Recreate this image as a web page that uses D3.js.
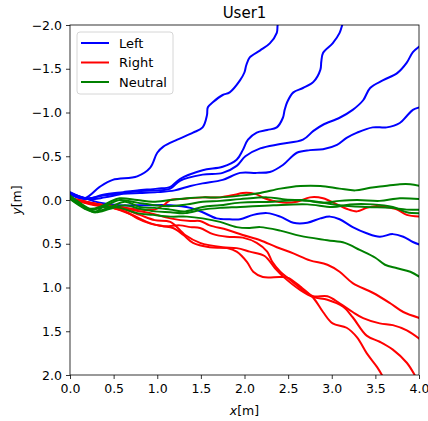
<!DOCTYPE html>
<html><head><meta charset="utf-8">
<script src="https://cdn.jsdelivr.net/npm/d3@7"></script>
<style>body{margin:0;background:#fff}svg{display:block}text{font-family:"DejaVu Sans",sans-serif}</style>
</head><body><svg id="c" width="428" height="421"></svg>
<script>
const title = "User1";
const xTicks = [0,0.5,1,1.5,2,2.5,3,3.5,4];
const yTicks = [-2,-1.5,-1,-0.5,0,0.5,1,1.5,2];
const seriesNames = ["Left","Right","Neutral"];
const seriesColors = ["#0000ff","#ff0000","#008000"];

// Left (blue) trajectories
const leftX = [
 [0,0.17,0.34,0.49,0.77,0.92,1.00,1.07,1.23,1.41,1.52,1.57,1.58,1.64,1.75,1.83,1.95,2.00,2.02,2.06,2.18,2.29,2.37,2.38,2.41],
 [0,0.17,0.38,0.61,0.77,1.00,1.15,1.26,1.52,1.75,1.91,1.98,2.04,2.14,2.26,2.37,2.44,2.46,2.49,2.56,2.67,2.79,2.87,2.88,2.90,3.01,3.09,3.12,3.15],
 [0,0.19,0.38,0.61,0.77,1.00,1.15,1.26,1.52,1.75,1.91,2.01,2.18,2.41,2.67,2.79,2.90,3.09,3.24,3.36,3.44,3.59,3.75,3.86,3.93,4.01],
 [0,0.21,0.40,0.61,0.80,1.00,1.20,1.38,1.52,1.75,1.95,2.14,2.29,2.44,2.60,2.75,2.90,3.06,3.17,3.29,3.47,3.63,3.78,3.86,3.93,4.01],
 [0,0.17,0.34,0.57,0.86,1.15,1.38,1.52,1.68,1.83,1.95,2.10,2.26,2.41,2.56,2.72,2.87,2.98,3.09,3.24,3.40,3.55,3.70,3.82,3.93,4.01]
];
const leftY = [
 [-0.06,-0.02,-0.15,-0.23,-0.27,-0.37,-0.54,-0.61,-0.69,-0.77,-0.83,-0.97,-1.06,-1.12,-1.20,-1.23,-1.37,-1.46,-1.54,-1.63,-1.71,-1.79,-1.91,-2.00,-2.11],
 [-0.07,-0.01,-0.06,-0.09,-0.11,-0.13,-0.15,-0.24,-0.34,-0.38,-0.46,-0.57,-0.69,-0.77,-0.80,-0.83,-0.94,-1.03,-1.12,-1.23,-1.28,-1.35,-1.49,-1.58,-1.68,-1.79,-1.91,-2.00,-2.11],
 [-0.08,-0.02,-0.05,-0.08,-0.10,-0.11,-0.13,-0.22,-0.29,-0.31,-0.39,-0.50,-0.59,-0.64,-0.69,-0.79,-0.86,-0.94,-1.03,-1.14,-1.28,-1.37,-1.45,-1.57,-1.69,-1.76],
 [-0.09,-0.01,-0.03,-0.07,-0.08,-0.09,-0.11,-0.16,-0.19,-0.23,-0.31,-0.31,-0.32,-0.40,-0.54,-0.57,-0.58,-0.63,-0.71,-0.77,-0.83,-0.83,-0.88,-0.96,-1.03,-1.06],
 [-0.08,-0.02,0.03,0.06,0.06,0.06,0.09,0.14,0.21,0.22,0.22,0.17,0.15,0.19,0.26,0.26,0.21,0.19,0.22,0.31,0.38,0.42,0.39,0.42,0.48,0.51]
];

// Right (red) trajectories
const rightX = [
 [0,0.17,0.34,0.57,0.80,0.97,1.07,1.15,1.26,1.52,1.72,1.89,1.98,2.12,2.23,2.33,2.44,2.60,2.75,2.90,3.06,3.17,3.29,3.40,3.50,3.61,3.75,3.86,4.01],
 [0,0.17,0.34,0.52,0.69,0.92,1.15,1.38,1.49,1.60,1.80,1.98,2.18,2.37,2.56,2.75,2.95,3.09,3.24,3.47,3.67,3.82,4.01],
 [0,0.23,0.46,0.69,0.88,1.07,1.26,1.38,1.49,1.64,1.80,1.98,2.14,2.26,2.32,2.41,2.52,2.67,2.79,2.95,3.09,3.24,3.36,3.55,3.70,3.86,4.01],
 [0,0.23,0.46,0.65,0.77,0.92,1.07,1.18,1.30,1.41,1.60,1.80,1.91,2.03,2.10,2.21,2.41,2.50,2.64,2.79,2.90,3.01,3.17,3.29,3.40,3.52,3.59,3.62],
 [0,0.23,0.46,0.63,0.80,0.97,1.15,1.32,1.49,1.75,1.91,2.06,2.23,2.35,2.46,2.64,2.79,2.95,3.13,3.24,3.40,3.55,3.70,3.86,3.95,3.99]
];
const rightY = [
 [-0.02,0.03,0.06,0.08,0.11,0.11,0.06,0,-0.01,-0.03,-0.03,-0.06,-0.08,-0.07,-0.02,0.01,0.03,0.02,-0.03,-0.02,0.05,0.10,0.13,0.09,0.07,0.08,0.11,0.17,0.19],
 [-0.02,0.02,0.05,0.07,0.11,0.15,0.21,0.24,0.24,0.29,0.34,0.40,0.46,0.54,0.61,0.69,0.74,0.82,0.95,1.06,1.18,1.28,1.35],
 [-0.02,0.03,0.08,0.16,0.25,0.30,0.29,0.31,0.32,0.39,0.42,0.43,0.49,0.59,0.71,0.82,0.91,1.03,1.10,1.10,1.18,1.28,1.35,1.41,1.43,1.49,1.59],
 [-0.02,0.03,0.08,0.14,0.21,0.27,0.30,0.32,0.40,0.49,0.54,0.55,0.59,0.71,0.82,0.88,0.88,0.89,0.99,1.12,1.28,1.41,1.46,1.57,1.75,1.91,2.03,2.11],
 [-0.02,0.05,0.09,0.11,0.17,0.23,0.25,0.40,0.49,0.54,0.55,0.59,0.64,0.78,0.89,1.03,1.11,1.14,1.22,1.34,1.55,1.62,1.71,1.86,2.00,2.08]
];

// Neutral (green) trajectories
const neutralX = [
 [0,0.11,0.23,0.34,0.46,0.57,0.77,0.95,1.15,1.34,1.52,1.72,1.95,2.18,2.41,2.64,2.87,3.09,3.27,3.44,3.61,3.78,3.90,4.01],
 [0,0.17,0.25,0.40,0.57,0.77,0.97,1.15,1.34,1.52,1.72,1.95,2.26,2.44,2.72,2.90,3.09,3.29,3.55,3.78,4.01],
 [0,0.17,0.29,0.46,0.63,0.80,0.97,1.15,1.32,1.52,1.72,1.95,2.33,2.64,2.83,3.09,3.40,3.67,3.86,4.01],
 [0,0.17,0.29,0.46,0.63,0.80,0.97,1.15,1.32,1.52,1.72,1.95,2.33,2.72,3.01,3.21,3.47,3.70,3.86,4.01],
 [0,0.17,0.29,0.38,0.57,0.77,0.95,1.15,1.34,1.52,1.72,1.91,2.06,2.18,2.41,2.64,2.95,3.15,3.32,3.50,3.61,3.75,3.90,4.01]
];
const neutralY = [
 [-0.05,0.03,0.10,0.08,0.02,-0.02,0,0.02,0,-0.02,-0.03,-0.03,-0.05,-0.08,-0.13,-0.16,-0.16,-0.13,-0.11,-0.14,-0.16,-0.18,-0.18,-0.16],
 [-0.03,0.08,0.11,0.07,0,0.03,0.06,0.07,0.05,0.02,0.01,-0.01,-0.03,-0.01,0.01,0.03,0.01,0,0.01,-0.02,-0.01],
 [-0.02,0.09,0.13,0.08,0.02,0.08,0.09,0.11,0.13,0.08,0.06,0.03,0.02,0,0.02,0.06,0.08,0.09,0.11,0.11],
 [-0.01,0.10,0.14,0.10,0.06,0.10,0.13,0.14,0.15,0.11,0.09,0.08,0.06,0.05,0.08,0.05,0.05,0.08,0.14,0.15],
 [-0.02,0.09,0.14,0.08,0.09,0.15,0.17,0.19,0.19,0.21,0.25,0.31,0.32,0.31,0.35,0.41,0.46,0.49,0.57,0.66,0.74,0.78,0.82,0.88]
];

const W = 428, H = 421;
const m = {left:70, right:9, top:25, bottom:46};
const iw = W - m.left - m.right, ih = H - m.top - m.bottom;
const svg = d3.select("#c");
const x = d3.scaleLinear().domain([0,4]).range([0, iw]);
const y = d3.scaleLinear().domain([-2,2]).range([0, ih]);

const g = svg.append("g").attr("transform", `translate(${m.left},${m.top})`);
g.append("defs").append("clipPath").attr("id","clip")
 .append("rect").attr("width", iw).attr("height", ih);

const line = d3.line().x(d=>x(d[0])).y(d=>y(d[1])).curve(d3.curveCatmullRom.alpha(0.5));
const groups = [[leftX,leftY],[rightX,rightY],[neutralX,neutralY]];
const plot = g.append("g").attr("clip-path","url(#clip)");
groups.forEach(([xs,ys],k)=>{
  xs.forEach((xr,i)=>{
    const pts = xr.map((v,j)=>[v, ys[i][j]]);
    plot.append("path").attr("d", line(pts)).attr("fill","none")
      .attr("stroke", seriesColors[k]).attr("stroke-width",2)
      .attr("stroke-linejoin","round").attr("stroke-linecap","round");
  });
});

const fmt = d => (d<0?"\u2212":"") + Math.abs(d).toFixed(1);
const xa = g.append("g").attr("transform",`translate(0,${ih})`)
  .call(d3.axisBottom(x).tickValues(xTicks).tickFormat(fmt).tickSizeInner(4).tickSizeOuter(0).tickPadding(5));
const ya = g.append("g")
  .call(d3.axisLeft(y).tickValues(yTicks).tickFormat(fmt).tickSizeInner(4).tickSizeOuter(0).tickPadding(4));
[xa,ya].forEach(a=>{
  a.select(".domain").remove();
  a.selectAll("text").attr("font-size",12.5).attr("fill","#000").style("font-family","DejaVu Sans");
  a.selectAll("line").attr("stroke","#000").attr("stroke-width",0.8);
});
g.append("rect").attr("width",iw).attr("height",ih).attr("fill","none").attr("stroke","#000").attr("stroke-width",0.8);

svg.append("text").attr("x", m.left+iw/2).attr("y", 18).attr("text-anchor","middle")
  .attr("font-size",15).text(title);
const xl = svg.append("text").attr("x", m.left+iw/2).attr("y", 415).attr("text-anchor","middle").attr("font-size",12.5);
xl.append("tspan").attr("font-style","italic").text("x");
xl.append("tspan").text("[m]");
const yl = svg.append("text").attr("transform",`translate(21,${m.top+ih/2}) rotate(-90)`).attr("text-anchor","middle").attr("font-size",12.5);
yl.append("tspan").attr("font-style","italic").text("y");
yl.append("tspan").text("[m]");

// legend
const lg = g.append("g").attr("transform","translate(7,7)");
lg.append("rect").attr("width",96).attr("height",62).attr("rx",3)
  .attr("fill","#fff").attr("fill-opacity",0.8).attr("stroke","#ccc").attr("stroke-width",0.8);
seriesNames.forEach((n,i)=>{
  const yy = 11 + i*19.5;
  lg.append("line").attr("x1",4).attr("x2",32).attr("y1",yy).attr("y2",yy)
    .attr("stroke",seriesColors[i]).attr("stroke-width",2);
  lg.append("text").attr("x",42).attr("y",yy+4.5).attr("font-size",13).text(n);
});
</script></body></html>
